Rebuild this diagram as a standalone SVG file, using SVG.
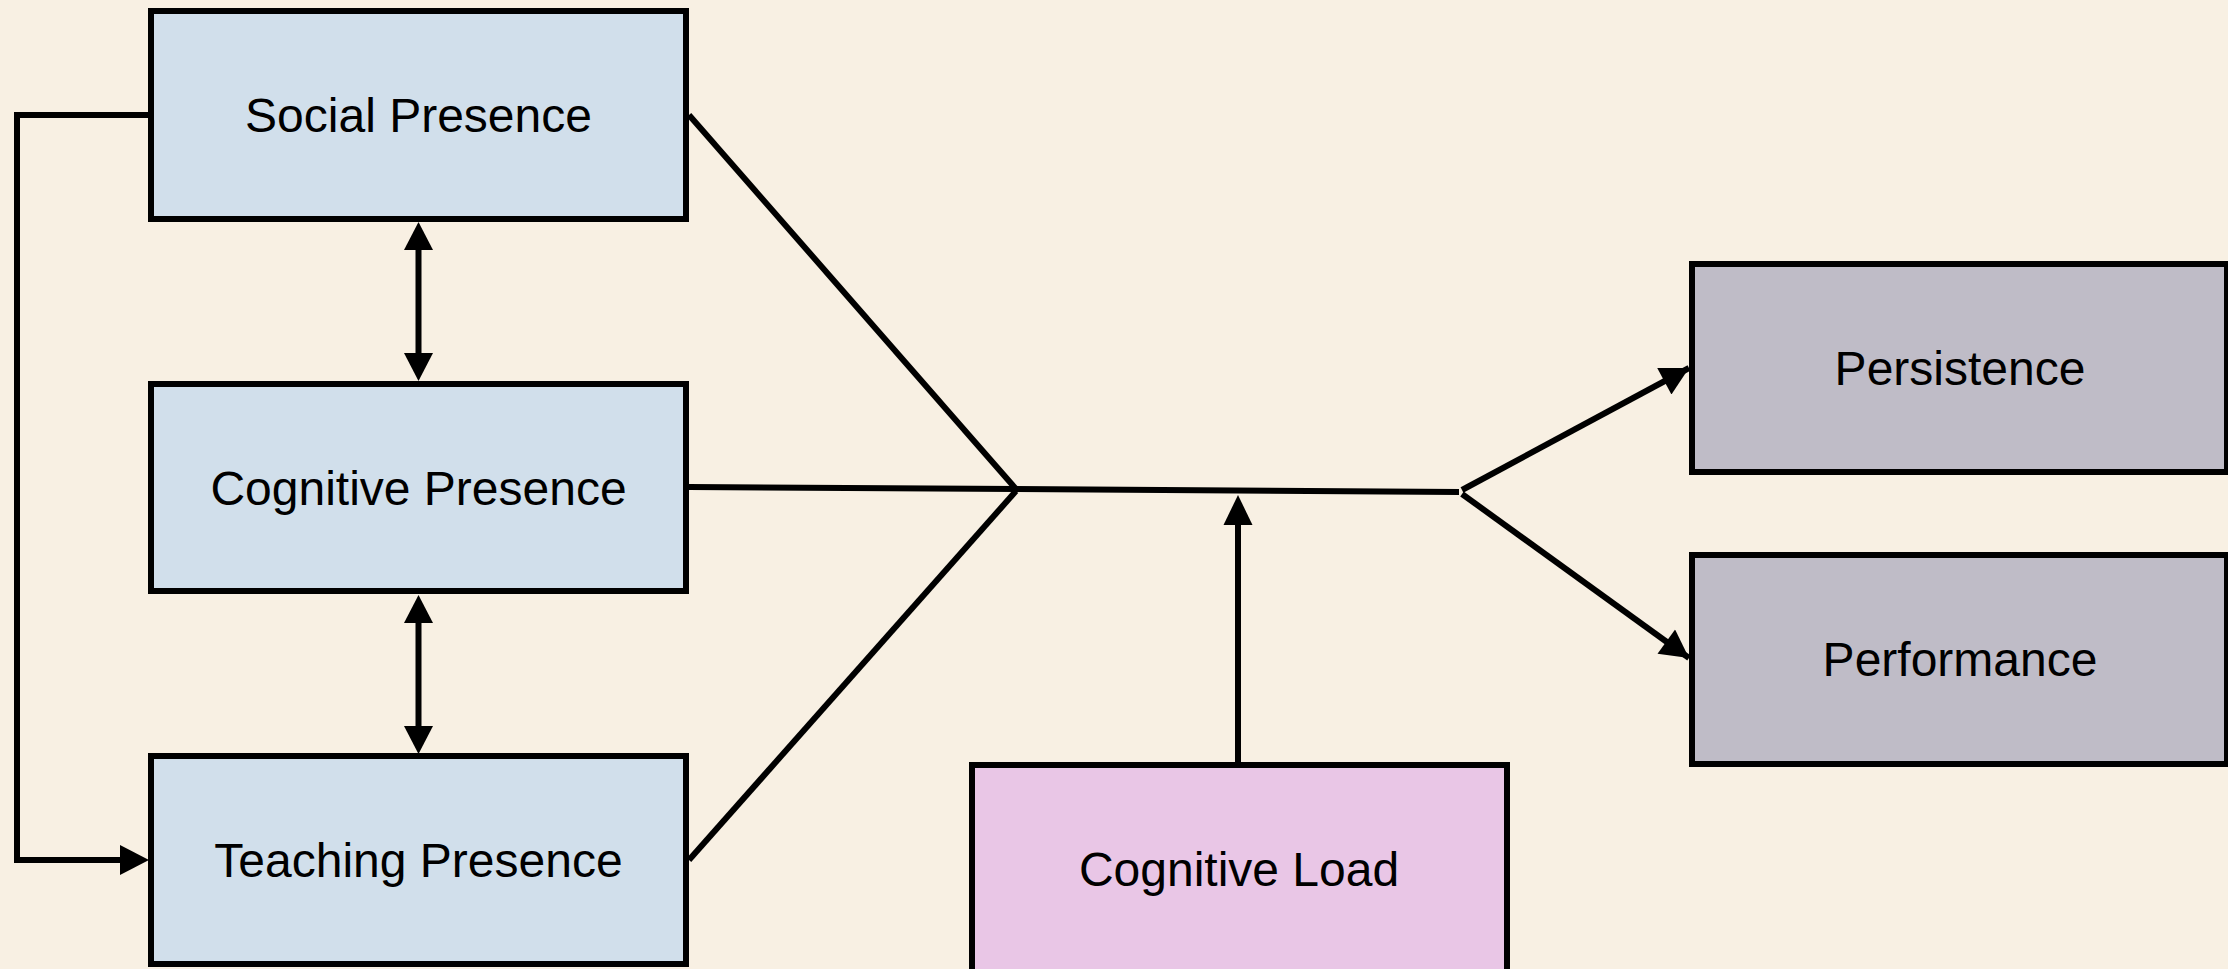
<svg xmlns="http://www.w3.org/2000/svg" width="2228" height="969" viewBox="0 0 2228 969">
<style>
.box{stroke:#000;stroke-width:6}
.blue{fill:#d1dfeb}
.gray{fill:#bfbcc7}
.pink{fill:#e9c6e6}
.lbl{font-family:"Liberation Sans",Arial,sans-serif;font-size:48px;fill:#000;text-anchor:middle}
.con{fill:none;stroke:#000;stroke-width:6}
</style>
<defs>
<marker id="ah" markerUnits="userSpaceOnUse" markerWidth="30" markerHeight="30" viewBox="0 0 28 30" refX="28" refY="15" orient="auto-start-reverse">
<path d="M0,0 L28,15 L0,30 Z" fill="#000"/>
</marker>
</defs>
<rect width="2228" height="969" fill="#f8f0e3"/>
<g id="connectors">
<path class="con" d="M151,115 H17 V860 H124"/>
<path d="M120,845 L149,860 L120,875 Z" fill="#000"/>
<line class="con" x1="418.5" y1="248" x2="418.5" y2="355"/>
<path d="M404,250 L418.5,222 L433,250 Z" fill="#000"/>
<path d="M404,353 L418.5,381 L433,353 Z" fill="#000"/>
<line class="con" x1="418.5" y1="620" x2="418.5" y2="728"/>
<path d="M404,623 L418.5,595 L433,623 Z" fill="#000"/>
<path d="M404,726 L418.5,754 L433,726 Z" fill="#000"/>
<line class="con" x1="689" y1="115" x2="1016" y2="489"/>
<line class="con" x1="689" y1="487" x2="1016" y2="489"/>
<line class="con" x1="1016" y1="489" x2="1459" y2="492"/>
<line class="con" x1="689" y1="860" x2="1016" y2="491"/>
<line class="con" x1="1238" y1="762" x2="1238" y2="522"/>
<path d="M1223.5,525 L1238,495 L1252.5,525 Z" fill="#000"/>
<line class="con" x1="1462" y1="490" x2="1689" y2="368" marker-end="url(#ah)"/>
<line class="con" x1="1462" y1="494" x2="1689" y2="658" marker-end="url(#ah)"/>
</g>
<g id="social">
<rect class="box blue" x="151" y="11" width="535" height="208"/>
<text class="lbl" x="418.5" y="132">Social Presence</text>
</g>
<g id="cognitive">
<rect class="box blue" x="151" y="384" width="535" height="207"/>
<text class="lbl" x="418.5" y="505">Cognitive Presence</text>
</g>
<g id="teaching">
<rect class="box blue" x="151" y="756" width="535" height="208"/>
<text class="lbl" x="418.5" y="877">Teaching Presence</text>
</g>
<g id="persistence">
<rect class="box gray" x="1692" y="264" width="535" height="208"/>
<text class="lbl" x="1960" y="385">Persistence</text>
</g>
<g id="performance">
<rect class="box gray" x="1692" y="555" width="535" height="209"/>
<text class="lbl" x="1960" y="676">Performance</text>
</g>
<g id="cogload">
<rect class="box pink" x="972" y="765" width="535" height="208"/>
<text class="lbl" x="1239" y="886">Cognitive Load</text>
</g>
</svg>
